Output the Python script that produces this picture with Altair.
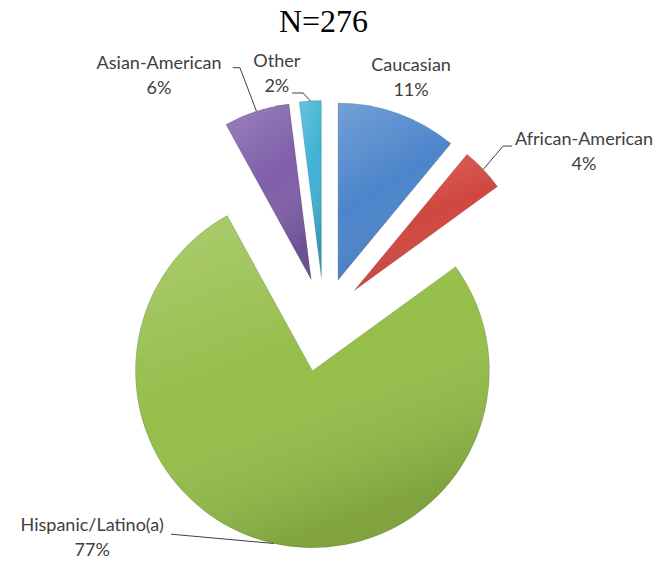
import altair as alt
import pandas as pd

# ---- data ----
groups = ["Caucasian", "African-American", "Hispanic/Latino(a)", "Asian-American", "Other"]
percents = [11, 4, 77, 6, 2]
pct_labels = ["11%", "4%", "77%", "6%", "2%"]
colors = ["#4C85CB", "#D0473F", "#95BE4A", "#7F5FA9", "#3FB2D4"]
title_text = ["N=276"]

# ---- layout / style (not data) ----
W, H = 646, 551
CX, CY = 316, 311          # pie centre inside the view
R = 177                    # pie radius
explode = {"Caucasian": 41.5, "African-American": 41.5, "Hispanic/Latino(a)": 53,
           "Asian-American": 41.5, "Other": 41.5}
# label anchor (first line): (angle deg clockwise from 12 o'clock, distance from pie centre)
label_pos = {"Caucasian": (19.0, 267.5), "African-American": (55.45, 315.7),
             "Hispanic/Latino(a)": (228.2, 311), "Asian-American": (327.1, 303.7),
             "Other": (349.6, 261.3)}
# leader line elbow: (angle, distance, horizontal tick length)
leader = {"African-American": (46.0, 249, 9), "Hispanic/Latino(a)": (215.4, 264, 0),
          "Asian-American": (341.5, 265, -7), "Other": (354.7, 227, -11)}

df = pd.DataFrame({
    "group": groups,
    "pct": percents,
    "label": [f"{g}\n{p}" for g, p in zip(groups, pct_labels)],
    "idx": list(range(len(groups))),
    "ex": [explode[g] for g in groups],
    "la": [label_pos[g][0] for g in groups],
    "lr": [label_pos[g][1] for g in groups],
    "has_leader": [g in leader for g in groups],
    "ea": [leader.get(g, (0, 0, 0))[0] for g in groups],
    "er": [leader.get(g, (0, 0, 0))[1] for g in groups],
    "tdx": [leader.get(g, (0, 0, 0))[2] for g in groups],
})

base = (
    alt.Chart(df)
    .transform_window(cum="sum(pct)", sort=[alt.SortField("idx")], frame=[None, 0])
    .transform_joinaggregate(total="sum(pct)")
    .transform_calculate(
        t0="2*PI*(datum.cum - datum.pct)/datum.total",
        t1="2*PI*datum.cum/datum.total",
    )
    .transform_calculate(mid="(datum.t0 + datum.t1)/2")
    .transform_calculate(
        ax=f"{CX} + datum.ex*sin(datum.mid)",
        ay=f"{CY} - datum.ex*cos(datum.mid)",
        lx=f"{CX} + datum.lr*sin(datum.la*PI/180)",
        ly=f"{CY} - datum.lr*cos(datum.la*PI/180)",
        ex2=f"{CX} + datum.er*sin(datum.ea*PI/180)",
        ey2=f"{CY} - datum.er*cos(datum.ea*PI/180)",
    )
    .transform_calculate(
        sx=f"datum.ax + {R}*sin(datum.mid)",
        sy=f"datum.ay - {R}*cos(datum.mid)",
        tx="datum.ex2 + datum.tdx",
    )
)

pos = dict(
    theta=alt.Theta("t0:Q", scale=None),
    theta2="t1:Q",
    x=alt.X("ax:Q", scale=None, axis=None),
    y=alt.Y("ay:Q", scale=None, axis=None),
)

arcs = base.mark_arc(outerRadius=R).encode(
    color=alt.Color("group:N", scale=alt.Scale(domain=groups, range=colors), legend=None),
    **pos,
)

shade = base.mark_arc(
    outerRadius=R,
    fill=alt.LinearGradient(
        gradient="linear", x1=0, y1=0, x2=0.4, y2=1,
        stops=[
            alt.GradientStop(offset=0, color="rgba(255,255,255,0.22)"),
            alt.GradientStop(offset=0.55, color="rgba(255,255,255,0.0)"),
            alt.GradientStop(offset=1, color="rgba(0,0,0,0.14)"),
        ],
    ),
    stroke="rgba(0,0,0,0.12)",
    strokeWidth=1,
).encode(**pos)

lead1 = base.transform_filter("datum.has_leader").mark_rule(color="#404040", strokeWidth=1).encode(
    x=alt.X("sx:Q", scale=None, axis=None),
    y=alt.Y("sy:Q", scale=None, axis=None),
    x2="ex2:Q",
    y2="ey2:Q",
)
lead2 = base.transform_filter("datum.has_leader && datum.tdx != 0").mark_rule(
    color="#404040", strokeWidth=1
).encode(
    x=alt.X("ex2:Q", scale=None, axis=None),
    y=alt.Y("ey2:Q", scale=None, axis=None),
    x2="tx:Q",
    y2="ey2:Q",
)

labels = base.mark_text(
    font="Lato", fontSize=18, color="#404040", lineBreak="\n", lineHeight=25,
    align="center", baseline="middle",
).encode(
    x=alt.X("lx:Q", scale=None, axis=None),
    y=alt.Y("ly:Q", scale=None, axis=None),
    text="label:N",
)

title = alt.Chart(pd.DataFrame({"t": title_text})).mark_text(
    font="Liberation Serif", fontSize=32, color="black", align="center", baseline="alphabetic",
).encode(x=alt.value(W / 2 - 7.5), y=alt.value(24), text="t:N")

chart = (
    alt.layer(arcs, shade, lead1, lead2, labels, title)
    .properties(
        width=W,
        height=H,
        autosize="none",
        padding={"left": 0, "right": 0, "top": 0, "bottom": 0},
    )
    .configure_view(stroke=None)
)

chart.save("out.html", embed_options={"renderer": "svg", "actions": False})
